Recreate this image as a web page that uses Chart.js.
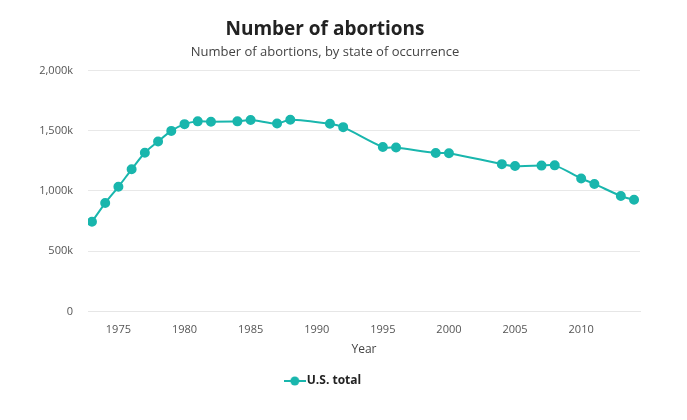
<!DOCTYPE html>
<html lang="en">
  <head>
    <meta charset="UTF-8" />
    <title>Number of abortions</title>
    <script src="https://cdn.jsdelivr.net/npm/chart.js"></script>
    <style>
      html, body { margin: 0; padding: 0; background: #fff; }
      #chart-container { width: 687px; height: 420px; }
    </style>
  </head>
  <body>
    <div id="chart-container">
      <canvas id="my-chart" width="687" height="420"></canvas>
    </div>

    <script>
      // Data (thousands)
      const years = [1973, 1974, 1975, 1976, 1977, 1978, 1979, 1980, 1981, 1982, 1984, 1985, 1987, 1988,
        1991, 1992, 1995, 1996, 1999, 2000, 2004, 2005, 2007, 2008, 2010, 2011, 2013, 2014];
      const totals = [744, 899, 1034, 1179, 1317, 1410, 1498, 1554, 1577, 1574, 1577, 1589, 1559, 1591,
        1557, 1529, 1364, 1360, 1315, 1313, 1222, 1206, 1210, 1212, 1103, 1058, 958, 926];
      const xTicks = [1975, 1980, 1985, 1990, 1995, 2000, 2005, 2010];
      const yTicks = [0, 500, 1000, 1500, 2000];

      const teal = "#19b6ad";
      const font = "'Open Sans', sans-serif";

      // legend marker: short line with a dot
      const marker = document.createElement("canvas");
      marker.width = 22;
      marker.height = 12;
      const mctx = marker.getContext("2d");
      mctx.strokeStyle = teal;
      mctx.lineWidth = 2;
      mctx.beginPath();
      mctx.moveTo(0, 6);
      mctx.lineTo(22, 6);
      mctx.stroke();
      mctx.fillStyle = teal;
      mctx.beginPath();
      mctx.arc(11, 6, 4.5, 0, Math.PI * 2);
      mctx.fill();

      const ctx = document.getElementById("my-chart").getContext("2d");
      const myChart = new Chart(ctx, {
        type: "line",
        data: {
          datasets: [
            {
              label: "U.S. total",
              data: years.map((y, i) => ({ x: y, y: totals[i] })),
              borderColor: teal,
              backgroundColor: teal,
              borderWidth: 2,
              pointRadius: 4,
              pointHoverRadius: 5,
              tension: 0.3,
              fill: false,
            },
          ],
        },
        options: {
          responsive: false,
          animation: false,
          layout: { padding: { left: 10, right: 47, top: 0, bottom: 23 } },
          plugins: {
            title: {
              display: true,
              text: "Number of abortions",
              color: "#222",
              font: { family: font, size: 19, weight: "bold" },
              padding: { top: 18, bottom: 4 },
            },
            subtitle: {
              display: true,
              text: "Number of abortions, by state of occurrence",
              color: "#444",
              font: { family: font, size: 13 },
              padding: { bottom: 10 },
            },
            legend: {
              position: "bottom",
              labels: {
                color: "#222",
                font: { family: font, size: 12, weight: "bold" },
                usePointStyle: true,
                padding: 14,
                generateLabels: (chart) =>
                  chart.data.datasets.map((ds, i) => ({
                    text: ds.label,
                    pointStyle: marker,
                    fontColor: "#222",
                    datasetIndex: i,
                  })),
              },
            },
            tooltip: { enabled: false },
          },
          scales: {
            x: {
              type: "linear",
              min: 1972.7,
              max: 2014.45,
              afterBuildTicks: (scale) => {
                scale.ticks = xTicks.map((v) => ({ value: v }));
              },
              grid: { display: false },
              border: { display: true, color: "#e6e6e6" },
              ticks: {
                color: "#555",
                font: { family: font, size: 11 },
                padding: 4,
                maxRotation: 0,
                callback: (v) => String(v),
              },
              title: {
                display: true,
                text: "Year",
                color: "#444",
                font: { family: font, size: 12 },
                padding: { top: 2 },
              },
            },
            y: {
              min: 0,
              max: 2000,
              afterBuildTicks: (scale) => {
                scale.ticks = yTicks.map((v) => ({ value: v }));
              },
              afterFit: (scale) => {
                scale.width = 78;
              },
              grid: { color: "#e8e8e8", drawTicks: false },
              border: { display: false },
              ticks: {
                color: "#555",
                font: { family: font, size: 11 },
                padding: 15,
                callback: (v) => (v === 0 ? "0" : v.toLocaleString("en-US") + "k"),
              },
            },
          },
        },
      });
    </script>
  </body>
</html>
